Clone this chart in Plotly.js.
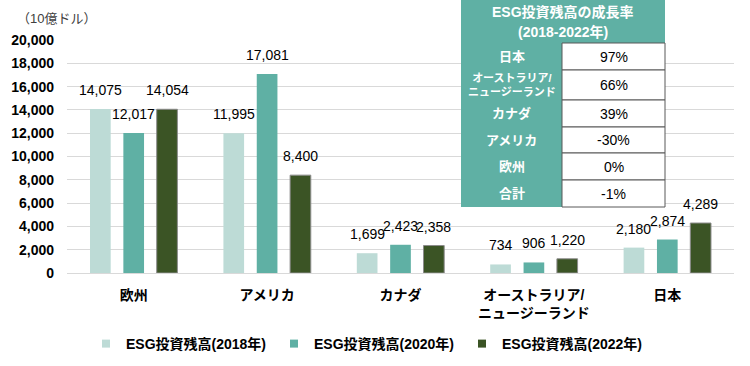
<!DOCTYPE html>
<html>
<head>
<meta charset="utf-8">
<script src="https://cdn.plot.ly/plotly-3.0.1.min.js"></script>
<style>html,body{margin:0;padding:0;background:#fff;}#chart{width:750px;height:366px;}</style>
</head>
<body>
<div id="chart"></div>
<script>
const categories = ["欧州", "アメリカ", "カナダ", "オーストラリア/<br>ニュージーランド", "日本"];
const seriesNames = ["ESG投資残高(2018年)", "ESG投資残高(2020年)", "ESG投資残高(2022年)"];
const values2018 = [14075, 11995, 1699, 734, 2180];
const values2020 = [12017, 17081, 2423, 906, 2874];
const values2022 = [14054, 8400, 2358, 1220, 4289];
const tableTitle = ["ESG投資残高の成長率", "(2018-2022年)"];
const tableLabels = ["日本", "オーストラリア/<br>ニュージーランド", "カナダ", "アメリカ", "欧州", "合計"];
const tableValues = ["97%", "66%", "39%", "-30%", "0%", "-1%"];

const FONT = "'Liberation Sans', Arial, 'Noto Sans CJK JP', sans-serif";
const colors = ["#bddbd6", "#5fb0a4", "#3b5425"];
const W = 750, H = 366;
const M = {l: 67, r: 16, t: 40, b: 93};
const PW = W - M.l - M.r, PH = H - M.t - M.b;
const px = x => (x - M.l) / PW;
const py = y => (H - M.b - y) / PH;
const BARGAP = 0.25, BARGROUPGAP = 0.38;
const slotPx = PW / categories.length * (1 - BARGAP) / 3;

const fmt = v => v.toLocaleString('en-US');
const allVals = [values2018, values2020, values2022];
const traces = allVals.map((vals, i) => ({
  type: 'bar',
  name: seriesNames[i],
  x: categories,
  y: vals,
  showlegend: false,
  cliponaxis: false,
  hoverinfo: 'none',
  marker: {color: colors[i], line: {color: i === 2 ? '#8c8c8c' : colors[i], width: i === 2 ? 1 : 0}}
}));
// legend entries (small square keys)
seriesNames.forEach((name, i) => {
  traces.push({type: 'scatter', mode: 'markers', name: name, x: [null], y: [null], showlegend: true, hoverinfo: 'none',
    marker: {symbol: 'square', size: 8, color: colors[i], line: {width: 0}}});
});

const shapes = [];
const annotations = [];
// data labels, anchored to each bar through the axes
allVals.forEach((vals, i) => {
  vals.forEach((v, j) => {
    annotations.push({xref: 'x', yref: 'y', x: categories[j], y: v, xshift: (i - 1) * slotPx,
      yanchor: 'bottom', yshift: 9, text: fmt(v), showarrow: false,
      font: {family: FONT, size: 14, color: '#000'}});
  });
});
// y axis unit
annotations.push({xref: 'paper', yref: 'paper', x: px(15), y: py(19), xanchor: 'left', yanchor: 'middle',
  text: '（10億ドル）', showarrow: false, font: {family: FONT, size: 13, color: '#404040'}});
// table
const tL = 461, tM = 562, tR = 665;
const rowEdges = [43, 70, 100, 127, 153, 180, 207];
shapes.push({type: 'rect', xref: 'paper', yref: 'paper', layer: 'above', x0: px(tL), x1: px(tR), y0: py(0), y1: py(43),
  fillcolor: '#5fb0a4', line: {width: 0}});
shapes.push({type: 'rect', xref: 'paper', yref: 'paper', layer: 'above', x0: px(tL), x1: px(tM), y0: py(43), y1: py(207),
  fillcolor: '#5fb0a4', line: {width: 0}});
annotations.push({xref: 'paper', yref: 'paper', x: px((tL + tR) / 2), y: py(12), xanchor: 'center', yanchor: 'middle',
  text: '<b>' + tableTitle[0] + '</b>', showarrow: false, font: {family: FONT, size: 14, color: '#fff'}});
annotations.push({xref: 'paper', yref: 'paper', x: px((tL + tR) / 2), y: py(32), xanchor: 'center', yanchor: 'middle',
  text: '<b>' + tableTitle[1] + '</b>', showarrow: false, font: {family: FONT, size: 14, color: '#fff'}});
for (let i = 0; i < tableLabels.length; i++) {
  const y0 = rowEdges[i], y1 = rowEdges[i + 1];
  shapes.push({type: 'rect', xref: 'paper', yref: 'paper', layer: 'above', x0: px(tM), x1: px(tR), y0: py(y0), y1: py(y1),
    fillcolor: '#ffffff', line: {color: '#595959', width: 1}});
  const two = tableLabels[i].indexOf('<br>') >= 0;
  annotations.push({xref: 'paper', yref: 'paper', x: px((tL + tM) / 2), y: py((y0 + y1) / 2), xanchor: 'center', yanchor: 'middle',
    text: '<b>' + tableLabels[i] + '</b>', showarrow: false,
    font: {family: FONT, size: two ? 11 : 13, color: '#fff'}});
  annotations.push({xref: 'paper', yref: 'paper', x: px((tM + tR) / 2), y: py((y0 + y1) / 2), xanchor: 'center', yanchor: 'middle',
    text: tableValues[i], showarrow: false, font: {family: FONT, size: 14, color: '#000'}});
}

const layout = {
  width: W, height: H,
  margin: M,
  paper_bgcolor: '#fff', plot_bgcolor: '#fff',
  font: {family: FONT, size: 14, color: '#000'},
  barmode: 'group',
  bargap: BARGAP,
  bargroupgap: BARGROUPGAP,
  showlegend: true,
  legend: {orientation: 'h', xref: 'container', yref: 'container', x: 86 / W, xanchor: 'left', y: 1 - 344 / H, yanchor: 'middle',
    entrywidth: 143, entrywidthmode: 'pixels', font: {family: FONT, size: 14, color: '#000', weight: 'bold'},
    itemclick: false, itemdoubleclick: false, traceorder: 'normal'},
  xaxis: {type: 'category', showgrid: false, zeroline: false, showline: false, ticks: '',
    tickfont: {family: FONT, size: 14, color: '#000', weight: 'bold'}, ticklabelstandoff: 12, fixedrange: true},
  yaxis: {range: [0, 20000], dtick: 2000, tickformat: ',d', showgrid: true, gridcolor: '#d9d9d9', gridwidth: 1,
    zeroline: true, zerolinecolor: '#d9d9d9', zerolinewidth: 1, showline: false, ticks: '',
    tickfont: {family: FONT, size: 14, color: '#000', weight: 'bold'}, ticklabelstandoff: 12, fixedrange: true},
  shapes: shapes,
  annotations: annotations
};

Plotly.newPlot('chart', traces, layout, {displayModeBar: false, staticPlot: true});
</script>
</body>
</html>
